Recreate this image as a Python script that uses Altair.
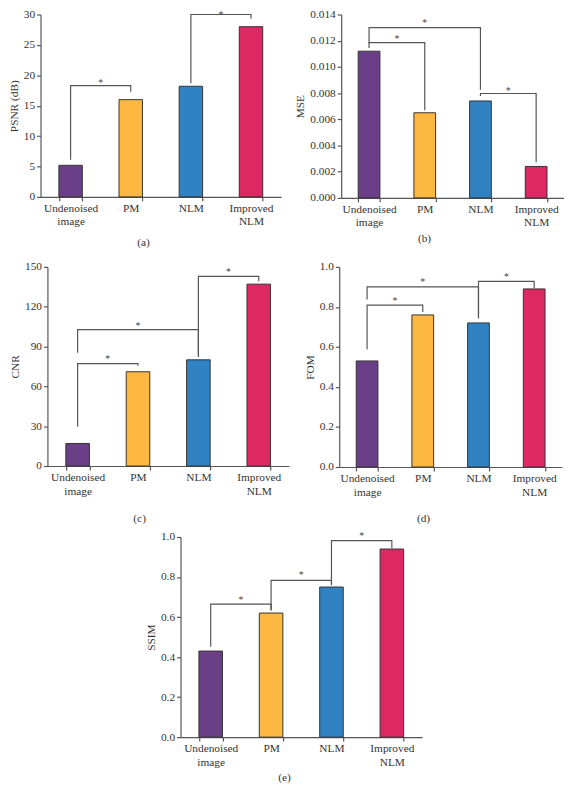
import altair as alt
import pandas as pd

categories = ["Undenoised image", "PM", "NLM", "Improved NLM"]
bar_colors = ["#6B3F87", "#FDB842", "#3182C3", "#DD2863"]

psnr = [5.2, 16.0, 18.2, 28.0]
mse = [0.0112, 0.0065, 0.0074, 0.0024]
cnr = [17, 71, 80, 137]
fom = [0.53, 0.76, 0.72, 0.89]
ssim = [0.43, 0.62, 0.75, 0.94]

# significance brackets: (from, to, left leg bottom, top, right leg bottom, star height)
psnr_brackets = [(0, 1, 6.1, 18.3, 17.3, 19.2), (2, 3, 18.7, 30.0, 29.3, 30.4)]
mse_brackets = [(0, 1, 0.01144, 0.01185, 0.0067, 0.01235),
                (0, 2, 0.0118, 0.0130, 0.00826, 0.0135),
                (2, 3, 0.00778, 0.00797, 0.00273, 0.00833)]
cnr_brackets = [(0, 1, 29.5, 77.2, 75.5, 82.7),
                (0, 2, 85.4, 102.7, 83.4, 107.4),
                (2, 3, 82.2, 142.8, 139.1, 147.8)]
fom_brackets = [(0, 1, 0.588, 0.809, 0.775, 0.84),
                (0, 2, 0.837, 0.90, 0.752, 0.936),
                (2, 3, 0.742, 0.928, 0.895, 0.96)]
ssim_brackets = [(0, 1, 0.452, 0.665, 0.632, 0.698),
                 (1, 2, 0.637, 0.783, 0.759, 0.821),
                 (2, 3, 0.764, 0.982, 0.944, 1.015)]

FONT = "Liberation Serif"
AX = "#555555"
TXT = "#333333"


def panel(vals, brackets, ymax, yvalues, fmt, ytitle, label, w, h, tx, ty):
    df = pd.DataFrame({"cat": categories, "val": vals, "color": bar_colors})
    yscale = alt.Scale(domain=[0, ymax], nice=False, zero=True)
    yaxis = alt.Axis(title=ytitle, values=yvalues, format=fmt)
    yenc = alt.Y("val:Q", scale=yscale, axis=yaxis)
    bars = alt.Chart(df).mark_bar(stroke="#333333", strokeWidth=1).encode(
        x=alt.X("cat:N", sort=categories,
                scale=alt.Scale(paddingInner=0.61, paddingOuter=0.305),
                axis=alt.Axis(title=label, labelAngle=0, tickBand="extent",
                              labelExpr="split(datum.label, ' ')",
                              titleX=tx, titleY=ty, titleBaseline="top",
                              titleAlign="center")),
        y=yenc,
        color=alt.Color("color:N", scale=None),
    )
    rows = []
    srows = []
    for k, (i, j, l, t, r, s) in enumerate(brackets):
        for o, (xi, yv) in enumerate([(i, l), (i, t), (j, t), (j, r)]):
            rows.append({"b": k, "o": o, "xp": xi + 0.5, "val": yv})
        srows.append({"xp": (i + j) / 2 + 0.5, "val": s})
    xq = alt.X("xp:Q", scale=alt.Scale(domain=[0, 4], nice=False, zero=False), axis=None)
    lines = alt.Chart(pd.DataFrame(rows)).mark_line(color=AX, strokeWidth=1.2).encode(
        x=xq, y=yenc, detail="b:N", order="o:Q")
    stars = alt.Chart(pd.DataFrame(srows)).mark_text(
        text="*", fontSize=10, color="#444444", font=FONT, dy=2.5, baseline="middle"
    ).encode(x=xq, y=yenc)
    return alt.layer(bars, lines, stars).resolve_scale(x="independent").properties(
        width=w, height=h)


def spacer(w):
    return alt.Chart(pd.DataFrame({"z": [0]})).mark_point(opacity=0).encode(
        x=alt.value(0), y=alt.value(0)).properties(width=w, height=10)


pa = panel(psnr, psnr_brackets, 30, [0, 5, 10, 15, 20, 25, 30], "d", "PSNR (dB)", "(a)",
           244, 185, 104, 40)
pb = panel(mse, mse_brackets, 0.014, [0, 0.002, 0.004, 0.006, 0.008, 0.010, 0.012, 0.014],
           ".3f", "MSE", "(b)", 226, 186, 84, 35)
pc = panel(cnr, cnr_brackets, 150, [0, 30, 60, 90, 120, 150], "d", "CNR", "(c)",
           245, 202, 93, 47)
pd_ = panel(fom, fom_brackets, 1.0, [0, 0.2, 0.4, 0.6, 0.8, 1.0], ".1f", "FOM", "(d)",
            226, 203, 85, 46)
pe = panel(ssim, ssim_brackets, 1.0, [0, 0.2, 0.4, 0.6, 0.8, 1.0], ".1f", "SSIM", "(e)",
           245, 203, 105, 35)

row1 = alt.hconcat(pa, pb, spacing=61, bounds="flush")
row2 = alt.hconcat(spacer(7), alt.hconcat(pc, pd_, spacing=51, bounds="flush"),
                   spacing=0, bounds="flush")
row3 = alt.hconcat(spacer(100), pe, spacing=42, bounds="flush")

chart = alt.vconcat(alt.vconcat(row1, row2, spacing=13), row3, spacing=7).properties(
    padding={"left": 0, "top": -5, "right": 0, "bottom": 0}
).configure_view(stroke=None).configure_axis(
    domainColor=AX, tickColor=AX, labelColor=TXT, titleColor=TXT,
    labelFont=FONT, titleFont=FONT, labelFontSize=11.5, titleFontSize=11.5,
    titleFontWeight="normal", tickSize=4, grid=False, labelPadding=2,
    titlePadding=4, labelLineHeight=13.5, domainWidth=1.2, tickWidth=1.2,
)

chart.save("out.html", embed_options={"renderer": "svg", "actions": False})
